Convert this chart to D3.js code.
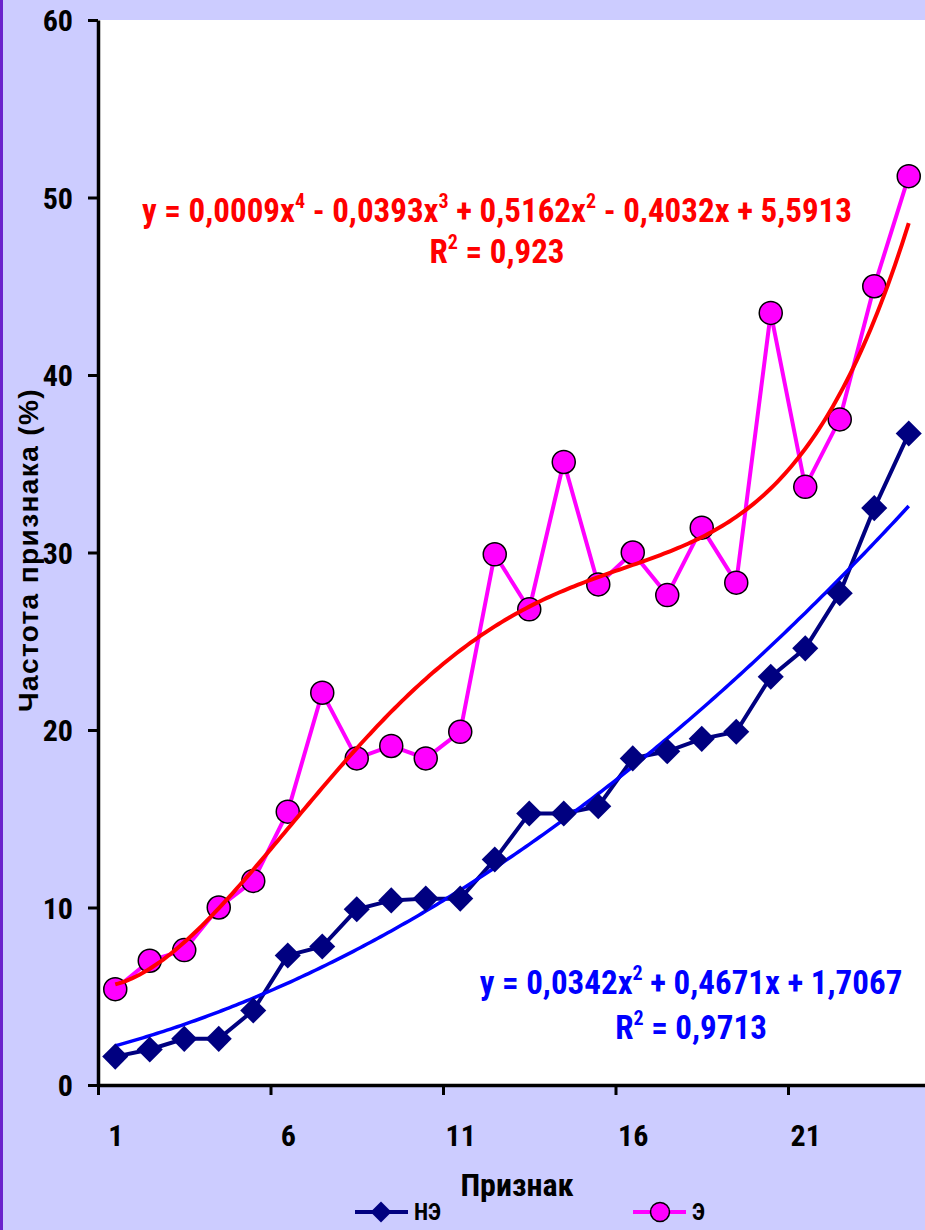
<!DOCTYPE html>
<html>
<head>
<meta charset="utf-8">
<script src="https://cdn.jsdelivr.net/npm/d3@7"></script>
<style>
  body { margin: 0; background: #ccccff; }
  svg { display: block; }
  .narrow { font-family: "Liberation Sans Narrow", "Arial Narrow", "Roboto Condensed", sans-serif; font-weight: bold; }
</style>
</head>
<body>
<div id="plot1"></div>
<script>
// categories 1..24
var categories = d3.range(1, 25);
var seriesNE = [1.6, 2.0, 2.6, 2.6, 4.2, 7.3, 7.8, 9.9, 10.4, 10.5, 10.5, 12.7, 15.3, 15.3, 15.7, 18.4, 18.8, 19.5, 19.9, 23.0, 24.6, 27.7, 32.5, 36.7];
var seriesE = [5.4, 7.0, 7.6, 10.0, 11.5, 15.4, 22.1, 18.4, 19.1, 18.4, 19.9, 29.9, 26.8, 35.1, 28.2, 30.0, 27.6, 31.4, 28.3, 43.5, 33.7, 37.5, 45.0, 51.2];
var yTicks = [0, 10, 20, 30, 40, 50, 60];
var xTickLabels = [1, 6, 11, 16, 21];
var seriesNames = ["НЭ", "Э"];
// trendline coefficients (from the chart labels), highest power first
var coefE = [0.0009, -0.0393, 0.5162, -0.4032, 5.5913];
var coefNE = [0.0342, 0.4671, 1.7067];

var W = 925, H = 1230;
var margin = {t: 20, l: 98, r: 926, b: 1085};

var svg = d3.select('#plot1').append('svg')
    .attr('width', W).attr('height', H);

svg.append('rect').attr('width', W).attr('height', H).attr('fill', '#ccccff');
svg.append('rect').attr('x', 0).attr('width', 3).attr('height', H).attr('fill', '#6a22cc');
svg.append('rect').attr('x', margin.l).attr('y', margin.t)
    .attr('width', W - margin.l).attr('height', margin.b - margin.t).attr('fill', '#fff');

var x = d3.scaleLinear().domain([0.5, 24.5]).range([margin.l, margin.r]);
var y = d3.scaleLinear().domain([0, 60]).range([margin.b, margin.t]);

function poly(c, v) {
    return c.reduce(function(acc, k) { return acc * v + k; }, 0);
}

// axes
var yAxis = svg.append('g').attr('class', 'narrow')
    .attr('transform', 'translate(' + margin.l + ',0)')
    .call(d3.axisLeft(y).tickValues(yTicks).tickSize(10).tickPadding(15).tickSizeOuter(0));
yAxis.selectAll('text').attr('font-size', 30).attr('fill', '#000').attr('dy', '0.36em');

var xAxis = svg.append('g')
    .attr('transform', 'translate(0,' + margin.b + ')')
    .call(d3.axisBottom(x).tickValues([0.5, 5.5, 10.5, 15.5, 20.5]).tickSize(10).tickFormat('').tickSizeOuter(0));
var xLabels = svg.append('g').attr('class', 'narrow')
    .attr('transform', 'translate(0,' + margin.b + ')')
    .call(d3.axisBottom(x).tickValues(xTickLabels).tickSize(0).tickPadding(40));
xLabels.select('.domain').remove();
xLabels.selectAll('text').attr('font-size', 30).attr('fill', '#000');

svg.selectAll('.domain').attr('stroke', '#000').attr('stroke-width', 3.5);
svg.selectAll('.tick line').attr('stroke', '#000').attr('stroke-width', 3);

var xs = d3.range(1, 24.001, 0.1);
var line = d3.line().x(function(d) { return x(d[0]); }).y(function(d) { return y(d[1]); });

var ptsNE = categories.map(function(c, i) { return [c, seriesNE[i]]; });
var ptsE = categories.map(function(c, i) { return [c, seriesE[i]]; });

// series lines
svg.append('path').datum(ptsNE).attr('d', line)
    .attr('fill', 'none').attr('stroke', '#000080').attr('stroke-width', 4);
svg.append('path').datum(ptsE).attr('d', line)
    .attr('fill', 'none').attr('stroke', '#ff00ff').attr('stroke-width', 4);

// blue trendline
svg.append('path').datum(xs.map(function(v) { return [v, poly(coefNE, v)]; })).attr('d', line)
    .attr('fill', 'none').attr('stroke', '#0000ff').attr('stroke-width', 3.5);

var diamond = d3.symbol().type(d3.symbolSquare).size(340);
svg.append('g').selectAll('path').data(ptsNE).enter().append('path')
    .attr('d', diamond)
    .attr('transform', function(d) { return 'translate(' + x(d[0]) + ',' + y(d[1]) + ') rotate(45)'; })
    .attr('fill', '#000080');

svg.append('g').selectAll('circle').data(ptsE).enter().append('circle')
    .attr('cx', function(d) { return x(d[0]); })
    .attr('cy', function(d) { return y(d[1]); })
    .attr('r', 11.5)
    .attr('fill', '#ff00ff').attr('stroke', '#000').attr('stroke-width', 1.5);

// red trendline
svg.append('path').datum(xs.map(function(v) { return [v, poly(coefE, v)]; })).attr('d', line)
    .attr('fill', 'none').attr('stroke', '#ff0000').attr('stroke-width', 4);

// equations; parts marked 1 are superscripts
function eq(parts, cx, cy, color) {
    var t = svg.append('text').attr('class', 'narrow')
        .attr('x', cx).attr('y', cy).attr('text-anchor', 'middle')
        .attr('font-size', 33).attr('fill', color);
    var shift = 0;
    parts.forEach(function(p) {
        var ts = t.append('tspan').text(p[0]);
        if (p[1]) {
            ts.attr('font-size', 20).attr('dy', -14);
            shift = 14;
        } else if (shift) {
            ts.attr('dy', shift);
            shift = 0;
        }
    });
}
eq([['y = 0,0009x'], ['4', 1], [' - 0,0393x'], ['3', 1], [' + 0,5162x'], ['2', 1], [' - 0,4032x + 5,5913']], 497, 222, '#ff0000');
eq([['R'], ['2', 1], [' = 0,923']], 497, 263, '#ff0000');
eq([['y = 0,0342x'], ['2', 1], [' + 0,4671x + 1,7067']], 691, 994, '#0000ff');
eq([['R'], ['2', 1], [' = 0,9713']], 691, 1039, '#0000ff');

// axis titles
svg.append('text').attr('class', 'narrow')
    .attr('x', 517).attr('y', 1196).attr('text-anchor', 'middle')
    .attr('font-size', 32).attr('fill', '#000').text('Признак');
svg.append('text')
    .attr('transform', 'translate(38,550) rotate(-90)')
    .attr('text-anchor', 'middle')
    .attr('font-family', 'Liberation Sans, Arial, sans-serif').attr('font-weight', 'bold')
    .attr('font-size', 28).attr('letter-spacing', 1.4).attr('fill', '#000').text('Частота признака (%)');

// legend
var legend = [
    {name: seriesNames[0], x: 355, color: '#000080', sym: 'diamond'},
    {name: seriesNames[1], x: 633, color: '#ff00ff', sym: 'circle'}
];
legend.forEach(function(l) {
    var g = svg.append('g').attr('transform', 'translate(' + l.x + ',1212)');
    g.append('line').attr('x1', 0).attr('x2', 53).attr('stroke', l.color).attr('stroke-width', 4);
    if (l.sym === 'diamond') {
        g.append('path').attr('d', d3.symbol().type(d3.symbolSquare).size(220))
            .attr('transform', 'translate(26,0) rotate(45)').attr('fill', l.color);
    } else {
        g.append('circle').attr('cx', 27).attr('r', 9.5)
            .attr('fill', l.color).attr('stroke', '#000').attr('stroke-width', 1.5);
    }
    g.append('text').attr('class', 'narrow').attr('x', 59).attr('y', 8)
        .attr('font-size', 23).attr('fill', '#000').text(l.name);
});
</script>
</body>
</html>
